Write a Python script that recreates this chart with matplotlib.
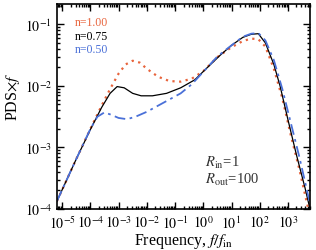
import numpy as np
import matplotlib
matplotlib.use("Agg")
import matplotlib.pyplot as plt
from matplotlib.ticker import FixedLocator, NullFormatter

plt.rcParams['font.family'] = ['Liberation Serif', 'DejaVu Serif']
plt.rcParams['mathtext.fontset'] = 'stix'

# log10 of frequency and log10 of PDS*f
lf_100 = [-5.18, -4.5, -4.0, -3.6, -3.3, -3.0, -2.75, -2.5, -2.25, -2.0, -1.6, -1.2, -0.8,
          -0.4, 0.0, 0.5, 1.0, 1.4, 1.7, 1.95, 2.2, 2.5, 2.8, 3.1, 3.4, 3.72]
ly_100 = [-3.87, -3.19, -2.70, -2.32, -2.05, -1.80, -1.65, -1.59, -1.62, -1.72, -1.85, -1.92, -1.93,
          -1.88, -1.76, -1.53, -1.37, -1.27, -1.23, -1.24, -1.36, -1.72, -2.2, -2.8, -3.35, -4.0]

lf_075 = [-5.18, -4.5, -4.0, -3.6, -3.3, -3.05, -2.8, -2.5, -2.2, -1.8, -1.3, -0.8, -0.3,
          0.1, 0.6, 1.0, 1.4, 1.7, 1.95, 2.2, 2.5, 2.72, 3.0, 3.3, 3.6, 3.78]
ly_075 = [-3.87, -3.19, -2.71, -2.35, -2.12, -2.01, -2.03, -2.12, -2.16, -2.16, -2.12, -2.03, -1.90,
          -1.72, -1.50, -1.34, -1.21, -1.16, -1.15, -1.30, -1.65, -2.0, -2.55, -3.12, -3.65, -4.0]

lf_050 = [-5.18, -4.5, -4.0, -3.75, -3.5, -3.25, -3.0, -2.7, -2.4, -2.0, -1.6, -1.2, -0.8,
          -0.4, 0.0, 0.5, 1.0, 1.4, 1.7, 1.95, 2.2, 2.5, 2.8, 3.1, 3.4, 3.6, 3.82]
ly_050 = [-3.87, -3.19, -2.70, -2.50, -2.43, -2.47, -2.52, -2.54, -2.50, -2.42, -2.32, -2.22, -2.12,
          -1.97, -1.77, -1.52, -1.34, -1.20, -1.15, -1.14, -1.26, -1.58, -2.05, -2.6, -3.15, -3.55, -4.0]

labels = ["n=1.00", "n=0.75", "n=0.50"]
colors = ["#e8643c", "black", "#4a70d8"]

xdecades = np.arange(-5, 4)
ydecades = np.arange(-4, 0)

fig = plt.figure(figsize=(3.16, 2.51), dpi=100)
ax = fig.add_axes([57/316, 1 - 210/251, 253/316, 205/251])

f = lambda a: 10.0 ** np.array(a)
ax.plot(f(lf_100), f(ly_100), color=colors[0], ls=(0, (1, 2)), lw=1.6)
ax.plot(f(lf_075), f(ly_075), color=colors[1], ls='-', lw=0.9)
ax.plot(f(lf_050), f(ly_050), color=colors[2], ls=(0, (6, 2.5, 1.5, 2.5)), lw=1.3)

ax.set_xscale('log')
ax.set_yscale('log')

ax.set_xticks(f(xdecades))
ax.set_xticklabels([r"$10^{%d}$" % d for d in xdecades])
ax.set_yticks(f(ydecades))
ax.set_yticklabels([r"$10^{%d}$" % d for d in ydecades])
xminor = [m * 10.0**d for d in range(-6, 4) for m in range(2, 10)]
yminor = [m * 10.0**d for d in range(-4, 0) for m in range(2, 10)]
ax.xaxis.set_minor_locator(FixedLocator(xminor))
ax.yaxis.set_minor_locator(FixedLocator(yminor))
ax.xaxis.set_minor_formatter(NullFormatter())
ax.yaxis.set_minor_formatter(NullFormatter())
ax.set_xlim(10**-5.18, 10**3.78)
ax.set_ylim(1e-4, 0.215)

ax.tick_params(which='both', direction='in', top=True, right=True, labelsize=10, width=1.0)
ax.tick_params(which='major', length=5)
ax.tick_params(which='minor', length=2.5)
ax.tick_params(axis='x', pad=4)
for s in ax.spines.values():
    s.set_linewidth(1.2)

ax.set_xlabel(r"Frequency, $f/f_{\rm in}$", fontsize=11.5, labelpad=0)
ax.set_ylabel(r"PDS$\times f$", fontsize=11.5)
ax.yaxis.set_label_coords(-0.14, 0.55)

for i, (lab, c) in enumerate(zip(labels, colors)):
    ax.text(0.07, 0.91 - i * 0.065, lab, color=c, fontsize=8.5, transform=ax.transAxes, va='center')

ax.text(0.585, 0.23, r"$R_{\rm in}$=1", fontsize=10.5, transform=ax.transAxes, color='#333333', va='center')
ax.text(0.585, 0.145, r"$R_{\rm out}$=100", fontsize=10.5, transform=ax.transAxes, color='#333333', va='center')

fig.savefig("out.png", dpi=100)
